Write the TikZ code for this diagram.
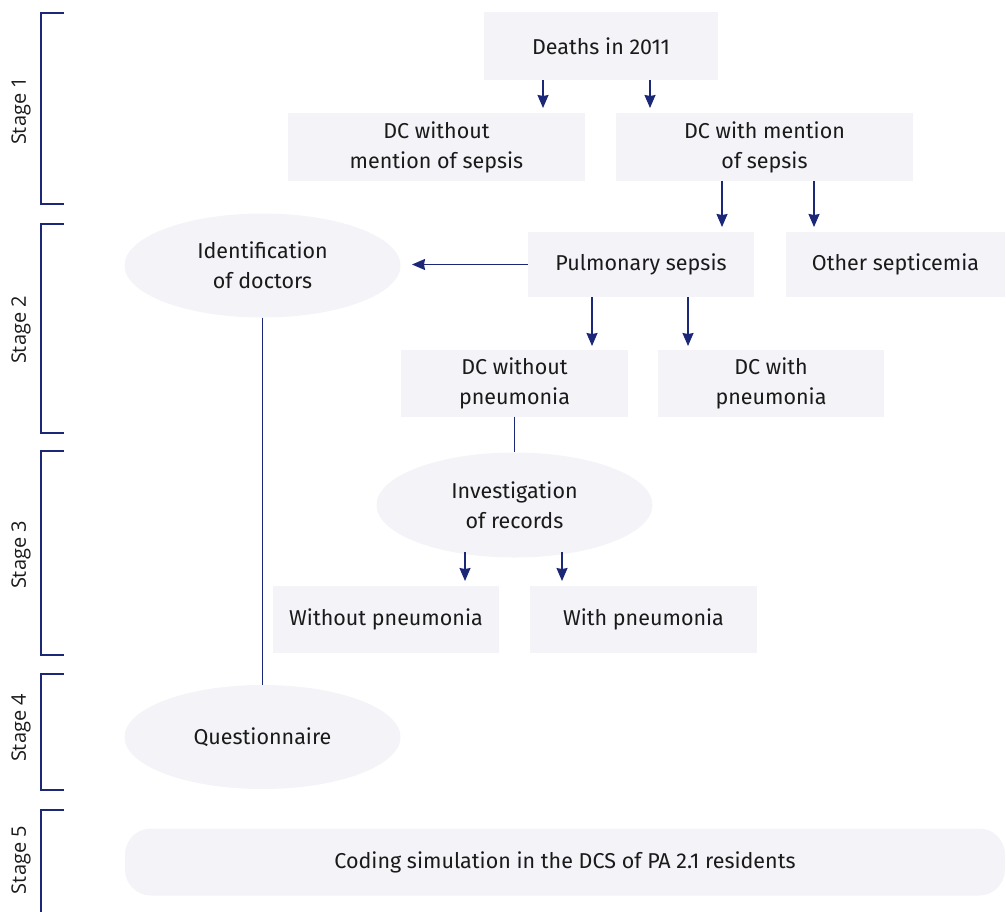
\documentclass[tikz,border=0pt]{standalone}
\usepackage{fontspec}
\setmainfont{Fira Sans}
\newfontfamily\stagefont{Open Sans}
\usetikzlibrary{arrows.meta,shapes.geometric}
\definecolor{boxfill}{HTML}{F3F3F8}
\definecolor{navy}{HTML}{1B2777}
\definecolor{txt}{HTML}{1A1A1A}
\tikzset{
  base/.style={fill=boxfill,draw=none,text=txt,align=center,inner sep=0pt,
    font=\fontsize{21.5}{30}\selectfont},
  rbox/.style={base,rectangle},
  ebox/.style={base,ellipse},
  arr/.style={draw=navy,line width=1.4pt,-{Stealth[length=13pt,width=11pt,inset=1pt]}},
  conn/.style={draw=navy,line width=1.2pt},
  brk/.style={draw=navy,line width=1.4pt},
  stagelbl/.style={text=txt,rotate=90,font=\stagefont\fontsize{20}{24}\selectfont,inner sep=0pt}
}
\begin{document}
\begin{tikzpicture}[x=1pt,y=-1pt]
\useasboundingbox (0,0) rectangle (1006,911);
% boxes
\node[rbox,minimum width=234pt,minimum height=68pt] (deaths) at (601,46) {Deaths in 2011};
\node[rbox,minimum width=297pt,minimum height=68pt] (dcwo) at (436.5,147) {DC without\\mention of sepsis};
\node[rbox,minimum width=297pt,minimum height=68pt] (dcw) at (764.5,147) {DC with mention\\of sepsis};
\node[rbox,minimum width=226pt,minimum height=65pt] (pulm) at (641,264.5) {Pulmonary sepsis};
\node[rbox,minimum width=219pt,minimum height=65pt] (other) at (895.5,264.5) {Other septicemia};
\node[ebox,minimum width=276pt,minimum height=104pt] (ident) at (262.5,265.5) {Identification\\of doctors};
\node[rbox,minimum width=227pt,minimum height=67pt] (dcwopn) at (514.5,383) {DC without\\pneumonia};
\node[rbox,minimum width=226pt,minimum height=67pt] (dcwpn) at (771,383) {DC with\\pneumonia};
\node[ebox,minimum width=276pt,minimum height=105pt] (invest) at (514.5,505) {Investigation\\of records};
\node[rbox,minimum width=226pt,minimum height=67pt] (wopn) at (386,619) {Without pneumonia};
\node[rbox,minimum width=227pt,minimum height=67pt] (wpn) at (643.5,619) {With pneumonia};
\node[ebox,minimum width=276pt,minimum height=104pt] (quest) at (262.5,737) {Questionnaire};
\node[rbox,rounded corners=26pt,minimum width=880pt,minimum height=67pt] (coding) at (565,862) {Coding simulation in the DCS of PA 2.1 residents};
% arrows
\coordinate (a1e) at (543,108);
\coordinate (a2e) at (650,108);
\draw[arr] (deaths.south -| a1e) -- (a1e);
\draw[arr] (deaths.south -| a2e) -- (a2e);
\coordinate (b1e) at (722,227);
\coordinate (b2e) at (814,227);
\draw[arr] (dcw.south -| b1e) -- (b1e);
\draw[arr] (dcw.south -| b2e) -- (b2e);
\coordinate (ce) at (412,264.5);
\draw[arr] (pulm.west) -- (ce);
\coordinate (d1e) at (592,346);
\coordinate (d2e) at (688,346);
\draw[arr] (pulm.south -| d1e) -- (d1e);
\draw[arr] (pulm.south -| d2e) -- (d2e);
\draw[conn] (dcwopn.south) -- (invest.north);
\coordinate (e1e) at (465,581);
\coordinate (e2e) at (562,581);
\coordinate (e1s) at (465,552);
\coordinate (e2s) at (562,552);
\draw[arr] (e1s) -- (e1e);
\draw[arr] (e2s) -- (e2e);
\draw[conn] (ident.south) -- (quest.north);
% stage brackets
\draw[brk] (64,13) -- (41,13) -- (41,204) -- (64,204);
\draw[brk] (64,224) -- (41,224) -- (41,433) -- (64,433);
\draw[brk] (64,451) -- (41,451) -- (41,655) -- (64,655);
\draw[brk] (64,674) -- (41,674) -- (41,790) -- (64,790);
\draw[brk] (64,810) -- (41,810) -- (41,912);
\node[stagelbl] (s1) at (21,111) {Stage 1};
\node[stagelbl] (s2) at (21,330) {Stage 2};
\node[stagelbl] (s3) at (21,555) {Stage 3};
\node[stagelbl] (s4) at (21,728) {Stage 4};
\node[stagelbl] (s5) at (21,860) {Stage 5};
\end{tikzpicture}
\end{document}
